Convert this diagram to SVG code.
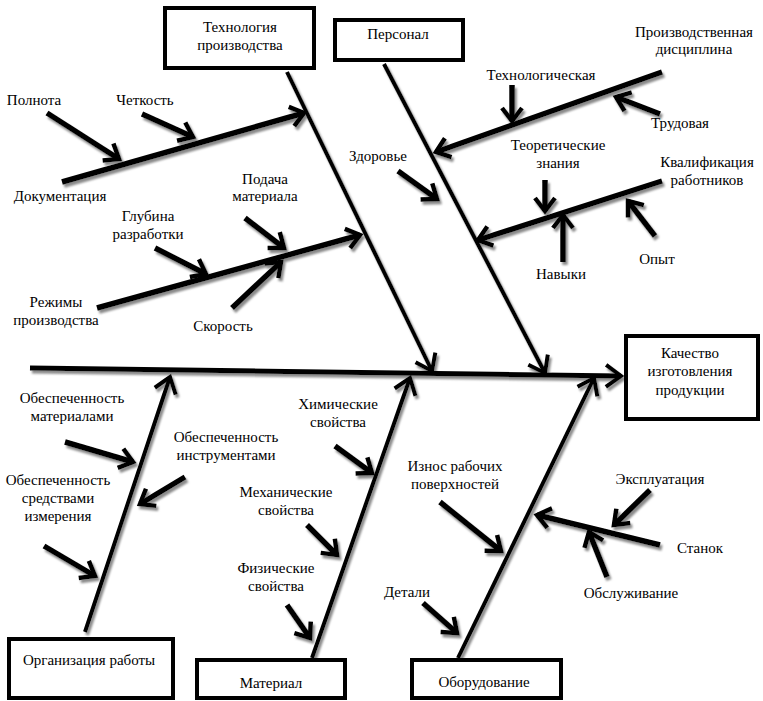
<svg xmlns="http://www.w3.org/2000/svg" width="763" height="701" viewBox="0 0 763 701">
<style>
text{font-family:'Liberation Serif','DejaVu Serif','Times New Roman',serif;font-size:15px;fill:#000;text-anchor:middle}
.box{fill:#fff;stroke:#000;stroke-width:4}
.bone{fill:none;stroke:#000;stroke-width:4;marker-end:url(#ah)}
.sub{fill:none;stroke:#000;stroke-width:5.5;marker-end:url(#ahs)}
</style>
<defs>
<marker id="ah" markerUnits="userSpaceOnUse" orient="auto" refX="0" refY="0" markerWidth="30" markerHeight="30" viewBox="-22 -15 30 30" overflow="visible">
<path d="M-15,-11 L0,0 L-15,11" fill="none" stroke="#000" stroke-width="4"/>
</marker>
<marker id="ahs" markerUnits="userSpaceOnUse" orient="auto" refX="0" refY="0" markerWidth="30" markerHeight="30" viewBox="-22 -15 30 30" overflow="visible">
<path d="M-13,-10 L0,0 L-13,10" fill="none" stroke="#000" stroke-width="4.5"/>
</marker>
<filter id="sh" x="-5%" y="-5%" width="110%" height="110%">
<feDropShadow dx="2" dy="3" stdDeviation="0.8" flood-color="#8a8a8a" flood-opacity="1"/>
</filter>
</defs>
<rect width="763" height="701" fill="#fff"/>

<g id="connectors" filter="url(#sh)">
<line class="bone" x1="30" y1="368" x2="621" y2="376" style="stroke-width:5"/>
<line class="bone" x1="287" y1="72" x2="432" y2="371"/>
<line class="bone" x1="384" y1="64" x2="545" y2="373"/>
<line class="bone" x1="85" y1="632" x2="170" y2="377"/>
<line class="bone" x1="312" y1="658" x2="410" y2="378"/>
<line class="bone" x1="458" y1="658" x2="594" y2="378"/>
<line class="sub" x1="62" y1="182" x2="304" y2="113"/>
<line class="sub" x1="47" y1="113" x2="119" y2="159"/>
<line class="sub" x1="142" y1="114" x2="193" y2="137"/>
<line class="sub" x1="97" y1="308" x2="360" y2="235"/>
<line class="sub" x1="155" y1="248" x2="206" y2="274"/>
<line class="sub" x1="245" y1="218" x2="284" y2="248"/>
<line class="sub" x1="232" y1="308" x2="281" y2="262"/>
<line class="sub" x1="398" y1="171" x2="437" y2="199"/>
<line class="sub" x1="662" y1="72" x2="436" y2="152"/>
<line class="sub" x1="512" y1="85" x2="512" y2="121"/>
<line class="sub" x1="660" y1="114" x2="616" y2="97"/>
<line class="sub" x1="662" y1="181" x2="478" y2="240"/>
<line class="sub" x1="545" y1="180" x2="545" y2="211"/>
<line class="sub" x1="563" y1="262" x2="563" y2="215"/>
<line class="sub" x1="655" y1="236" x2="628" y2="201"/>
<line class="sub" x1="65" y1="442" x2="133" y2="462"/>
<line class="sub" x1="185" y1="477" x2="140" y2="504"/>
<line class="sub" x1="44" y1="546" x2="95" y2="576"/>
<line class="sub" x1="335" y1="446" x2="372" y2="473"/>
<line class="sub" x1="307" y1="525" x2="337" y2="555"/>
<line class="sub" x1="287" y1="605" x2="310" y2="638"/>
<line class="sub" x1="440" y1="502" x2="501" y2="551"/>
<line class="sub" x1="423" y1="603" x2="457" y2="633"/>
<line class="sub" x1="660" y1="545" x2="537" y2="515"/>
<line class="sub" x1="650" y1="490" x2="614" y2="525"/>
<line class="sub" x1="607" y1="577" x2="589" y2="532"/>
</g>

<g id="node-tech">
<rect class="box" x="165" y="8" width="149" height="60"/>
<text x="240" y="32">Технология</text>
<text x="240" y="50">производства</text>
</g>
<g id="node-personal">
<rect class="box" x="335" y="20" width="128" height="40"/>
<text x="398" y="39">Персонал</text>
</g>
<g id="node-quality">
<rect class="box" x="626" y="336" width="132" height="83"/>
<text x="690" y="358">Качество</text>
<text x="690" y="376">изготовления</text>
<text x="690" y="395">продукции</text>
</g>
<g id="node-org">
<rect class="box" x="9" y="639" width="164" height="59"/>
<text x="89" y="665">Организация работы</text>
</g>
<g id="node-material">
<rect class="box" x="197" y="660" width="148" height="38"/>
<text x="271" y="688">Материал</text>
</g>
<g id="node-equipment">
<rect class="box" x="412" y="660" width="149" height="38"/>
<text x="484" y="687">Оборудование</text>
</g>

<g id="label-polnota"><text x="34" y="105">Полнота</text></g>
<g id="label-chetkost"><text x="145" y="105">Четкость</text></g>
<g id="label-doc"><text x="60" y="201">Документация</text></g>
<g id="label-podacha"><text x="265" y="184">Подача</text><text x="265" y="201">материала</text></g>
<g id="label-glubina"><text x="148" y="221">Глубина</text><text x="148" y="239">разработки</text></g>
<g id="label-rezhimy"><text x="56" y="307">Режимы</text><text x="56" y="325">производства</text></g>
<g id="label-skorost"><text x="223" y="331">Скорость</text></g>

<g id="label-zdorovie"><text x="378" y="161">Здоровье</text></g>
<g id="label-discipline"><text x="694" y="37">Производственная</text><text x="694" y="54">дисциплина</text></g>
<g id="label-tech"><text x="541" y="80">Технологическая</text></g>
<g id="label-trud"><text x="680" y="128">Трудовая</text></g>
<g id="label-theory"><text x="558" y="150">Теоретические</text><text x="558" y="168">знания</text></g>
<g id="label-qual"><text x="707" y="167">Квалификация</text><text x="707" y="185">работников</text></g>
<g id="label-navyki"><text x="561" y="279">Навыки</text></g>
<g id="label-opyt"><text x="657" y="264">Опыт</text></g>

<g id="label-obesp-mat"><text x="72" y="403">Обеспеченность</text><text x="72" y="421">материалами</text></g>
<g id="label-obesp-instr"><text x="226" y="442">Обеспеченность</text><text x="226" y="460">инструментами</text></g>
<g id="label-obesp-izm"><text x="58" y="485">Обеспеченность</text><text x="58" y="503">средствами</text><text x="58" y="521">измерения</text></g>

<g id="label-chem"><text x="338" y="409">Химические</text><text x="338" y="427">свойства</text></g>
<g id="label-mech"><text x="286" y="497">Механические</text><text x="286" y="515">свойства</text></g>
<g id="label-phys"><text x="276" y="573">Физические</text><text x="276" y="591">свойства</text></g>

<g id="label-iznos"><text x="455" y="471">Износ рабочих</text><text x="455" y="489">поверхностей</text></g>
<g id="label-ekspl"><text x="660" y="484">Эксплуатация</text></g>
<g id="label-stanok"><text x="700" y="553">Станок</text></g>
<g id="label-obsl"><text x="631" y="598">Обслуживание</text></g>
<g id="label-detali"><text x="407" y="597">Детали</text></g>
</svg>
